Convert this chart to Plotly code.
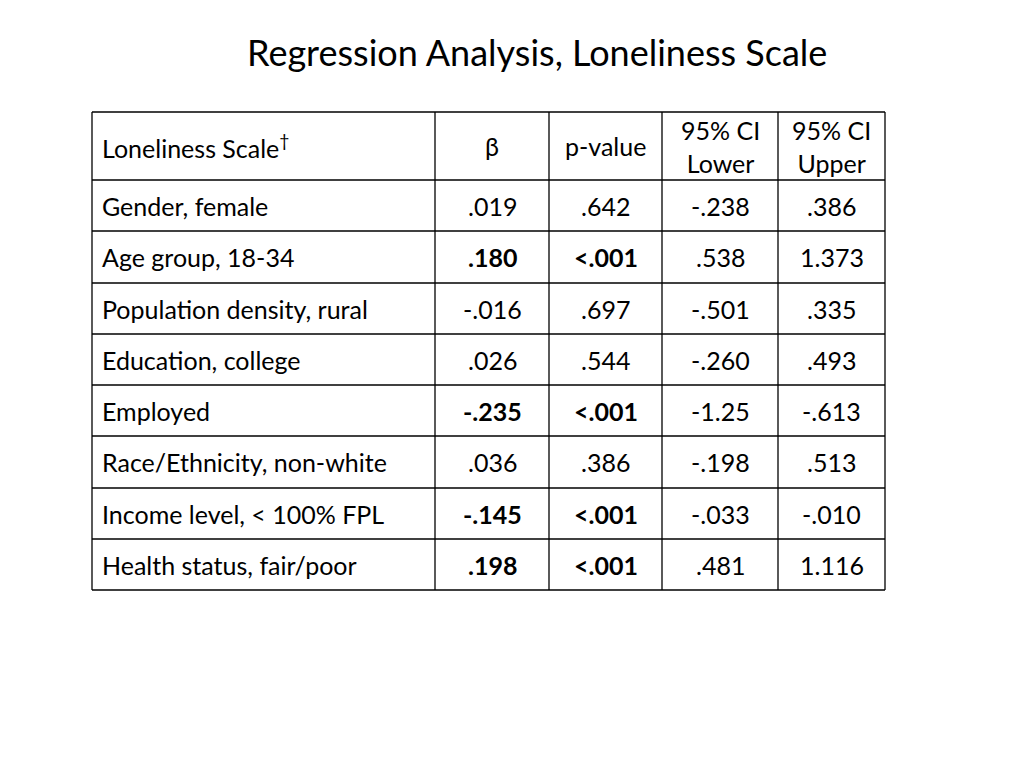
import plotly.graph_objects as go

# Table contents
header_labels = ["Loneliness Scale<sup>†</sup>", "β", "p-value", "95% CI<br>Lower", "95% CI<br>Upper"]
variables = ["Gender, female", "Age group, 18-34", "Population density, rural",
             "Education, college", "Employed", "Race/Ethnicity, non-white",
             "Income level, < 100% FPL", "Health status, fair/poor"]
beta = [".019", "<b>.180</b>", "-.016", ".026", "<b>-.235</b>", ".036", "<b>-.145</b>", "<b>.198</b>"]
p_value = [".642", "<b><.001</b>", ".697", ".544", "<b><.001</b>", ".386", "<b><.001</b>", "<b><.001</b>"]
ci_lower = ["-.238", ".538", "-.501", "-.260", "-1.25", "-.198", "-.033", ".481"]
ci_upper = [".386", "1.373", ".335", ".493", "-.613", ".513", "-.010", "1.116"]

# grid layout (pixels)
col_edges = [92, 435, 549, 662, 778, 885]
row_edges = [112, 180, 231, 283, 334, 385, 436, 488, 539, 590]

FONT = "Lato, Open Sans, sans-serif"
font = dict(family=FONT, size=25, color="black")

fig = go.Figure()

# grid lines
for x in col_edges:
    fig.add_shape(type="line", x0=x, x1=x, y0=row_edges[0], y1=row_edges[-1],
                  line=dict(color="black", width=1.3))
for y in row_edges:
    fig.add_shape(type="line", x0=col_edges[0], x1=col_edges[-1], y0=y, y1=y,
                  line=dict(color="black", width=1.3))


def put(text, col, row):
    yc = (row_edges[row] + row_edges[row + 1]) / 2
    if col == 0:
        fig.add_annotation(text=text, x=col_edges[0] + 8, y=yc, xanchor="left", yanchor="middle",
                           showarrow=False, font=font)
    else:
        xc = (col_edges[col] + col_edges[col + 1]) / 2
        fig.add_annotation(text=text, x=xc, y=yc, xanchor="center", yanchor="middle",
                           showarrow=False, font=font, align="center")


for c, label in enumerate(header_labels):
    put(label, c, 0)
columns = [variables, beta, p_value, ci_lower, ci_upper]
for c, col in enumerate(columns):
    for r, val in enumerate(col):
        put(val, c, r + 1)

fig.add_annotation(text="Regression Analysis, Loneliness Scale", x=537, y=52,
                   xanchor="center", yanchor="middle", showarrow=False,
                   font=dict(family=FONT, size=36, color="black"))

fig.update_xaxes(range=[8, 1032], visible=False, fixedrange=True)
fig.update_yaxes(range=[776, 8], visible=False, fixedrange=True)
fig.update_layout(width=1024, height=768, margin=dict(l=0, r=0, t=0, b=0),
                  paper_bgcolor="white", plot_bgcolor="white")

fig.write_html("out.html")
